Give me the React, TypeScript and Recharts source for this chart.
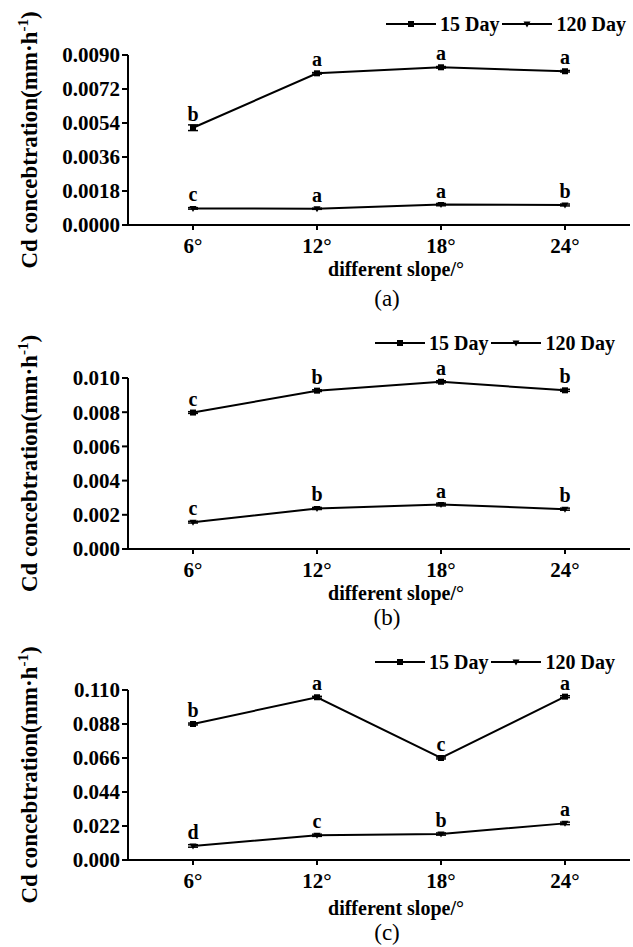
import React from 'react';
import { LineChart, Line, XAxis, YAxis, Legend, LabelList, ErrorBar } from 'recharts';

const FONT = '"Liberation Serif", "Times New Roman", serif';

const slopes = ['6°', '12°', '18°', '24°'];
const seriesNames = ['15 Day', '120 Day'];

// panel (a)
const a15 = [0.00515, 0.00803, 0.00835, 0.00814];
const a120 = [0.00088, 0.00086, 0.00108, 0.00106];
const a15Err = [0.00015, 0.00004, 0.00004, 0.00004];
const a120Err = [0.00004, 0.00003, 0.00006, 0.00005];
const a15Sig = ['b', 'a', 'a', 'a'];
const a120Sig = ['c', 'a', 'a', 'b'];
const aTicks = [0, 0.0018, 0.0036, 0.0054, 0.0072, 0.009];

// panel (b)
const b15 = [0.00798, 0.00926, 0.00978, 0.00928];
const b120 = [0.00157, 0.00237, 0.0026, 0.00233];
const b15Err = [0.00005, 0.00005, 0.00006, 0.00006];
const b120Err = [0.00005, 0.00006, 0.00008, 0.00006];
const b15Sig = ['c', 'b', 'a', 'b'];
const b120Sig = ['c', 'b', 'a', 'b'];
const bTicks = [0, 0.002, 0.004, 0.006, 0.008, 0.01];

// panel (c)
const c15 = [0.088, 0.1053, 0.066, 0.1057];
const c120 = [0.0091, 0.016, 0.0168, 0.0237];
const c15Err = [0.0006, 0.0006, 0.0006, 0.0006];
const c120Err = [0.0008, 0.0007, 0.0007, 0.0008];
const c15Sig = ['b', 'a', 'c', 'a'];
const c120Sig = ['d', 'c', 'b', 'a'];
const cTicks = [0, 0.022, 0.044, 0.066, 0.088, 0.11];

type Row = {
  slope: string; d15: number; d120: number; e15: number; e120: number; s15: string; s120: string;
};

const buildRows = (v15: number[], v120: number[], e15: number[], e120: number[], s15: string[], s120: string[]): Row[] =>
  slopes.map((slope, i) => ({
    slope, d15: v15[i], d120: v120[i], e15: e15[i], e120: e120[i], s15: s15[i], s120: s120[i],
  }));

const SquareDot = (p: any) => {
  if (p.cx == null || p.cy == null) return <g key={p.index} />;
  return <rect key={p.index} x={p.cx - 3} y={p.cy - 3} width={6} height={6} fill="#000" />;
};

const TriDot = (p: any) => {
  if (p.cx == null || p.cy == null) return <g key={p.index} />;
  const { cx, cy } = p;
  return <path key={p.index} d={`M${cx - 3.5},${cy - 2.5}L${cx + 3.5},${cy - 2.5}L${cx},${cy + 3.5}Z`} fill="#000" />;
};

const SigLabel = (p: any) => (
  <text x={p.x} y={p.y - 7} textAnchor="middle" fontFamily={FONT} fontSize={20} fontWeight="bold" fill="#000">
    {p.value}
  </text>
);

// keep legend in series order (recharts sorts by name otherwise)
const LegendBox = (props: any) => {
  const items = [...(props.payload || [])].sort(
    (p: any, q: any) => seriesNames.indexOf(p.value) - seriesNames.indexOf(q.value),
  );
  return (
    <div style={{ display: 'flex', alignItems: 'center', fontFamily: FONT, fontSize: 20, fontWeight: 'bold', color: '#000', whiteSpace: 'nowrap', lineHeight: '24px' }}>
      {items.map((it: any, i: number) => (
        <React.Fragment key={it.value}>
          <svg width={50} height={10} style={{ marginLeft: i === 0 ? 0 : 3 }}>
            <line x1={0} y1={5} x2={50} y2={5} stroke="#000" strokeWidth={2} />
            {it.dataKey === 'd15'
              ? <rect x={22} y={2} width={6} height={6} fill="#000" />
              : <path d="M21.5,2.5L28.5,2.5L25,8.5Z" fill="#000" />}
          </svg>
          <span style={{ marginLeft: 4 }}>{it.value}</span>
        </React.Fragment>
      ))}
    </div>
  );
};

type PanelProps = {
  rows: Row[];
  ticks: number[];
  digits: number;
  caption: string;
  height: number;
  plotTop: number;
  plotHeight: number;
  legendLeft: number;
  legendTop: number;
  titleDy: number;
  captionDy: number;
};

const Panel = ({ rows, ticks, digits, caption, height, plotTop, plotHeight, legendLeft, legendTop, titleDy, captionDy }: PanelProps) => {
  const yCenter = plotTop + plotHeight / 2;
  const xAxisHeight = height - plotTop - plotHeight;
  return (
    <LineChart width={633} height={height} data={rows} margin={{ top: plotTop, right: 3, bottom: 0, left: 0 }}>
      <XAxis
        dataKey="slope"
        padding={{ left: 65, right: 65 }}
        height={xAxisHeight}
        axisLine={{ stroke: '#000', strokeWidth: 2 }}
        tickLine={{ stroke: '#000', strokeWidth: 2 }}
        tickSize={5}
        tickMargin={8}
        tick={{ fill: '#000', fontFamily: FONT, fontSize: 21, fontWeight: 'bold' }}
        label={(lp: any) => {
          const vb = lp.viewBox || {};
          return (
            <g>
              <text x={396} y={vb.y + titleDy} textAnchor="middle" fontFamily={FONT} fontSize={20} fontWeight="bold" fill="#000">
                different slope/°
              </text>
              <text x={387} y={vb.y + captionDy} textAnchor="middle" fontFamily={FONT} fontSize={23} fill="#000">
                {caption}
              </text>
            </g>
          );
        }}
      />
      <YAxis
        width={128}
        domain={[ticks[0], ticks[ticks.length - 1]]}
        ticks={ticks}
        interval={0}
        tickFormatter={(v: number) => v.toFixed(digits)}
        axisLine={{ stroke: '#000', strokeWidth: 2 }}
        tickLine={{ stroke: '#000', strokeWidth: 2 }}
        tickSize={6}
        tickMargin={2}
        tick={{ fill: '#000', fontFamily: FONT, fontSize: 21, fontWeight: 'bold' }}
        label={() => (
          <text
            x={37}
            y={yCenter}
            transform={`rotate(-90, 37, ${yCenter})`}
            textAnchor="middle"
            fontFamily={FONT}
            fontSize={23}
            fontWeight="bold"
            fill="#000"
          >
            Cd concebtration(mm·h<tspan dy={-9} fontSize={15}>-1</tspan><tspan dy={9}>)</tspan>
          </text>
        )}
      />
      <Legend
        layout="horizontal"
        verticalAlign="middle"
        align="center"
        wrapperStyle={{ left: legendLeft, top: legendTop - 12, width: 270, height: 24 }}
        content={LegendBox}
      />
      <Line
        name={seriesNames[0]}
        dataKey="d15"
        stroke="#000"
        strokeWidth={2}
        dot={SquareDot}
        activeDot={false}
        isAnimationActive={false}
      >
        <ErrorBar dataKey="e15" direction="y" width={5} stroke="#000" strokeWidth={1.5} />
        <LabelList dataKey="s15" content={SigLabel} />
      </Line>
      <Line
        name={seriesNames[1]}
        dataKey="d120"
        stroke="#000"
        strokeWidth={2}
        dot={TriDot}
        activeDot={false}
        isAnimationActive={false}
      >
        <ErrorBar dataKey="e120" direction="y" width={5} stroke="#000" strokeWidth={1.5} />
        <LabelList dataKey="s120" content={SigLabel} />
      </Line>
    </LineChart>
  );
};

export default function App() {
  const rowsA = buildRows(a15, a120, a15Err, a120Err, a15Sig, a120Sig);
  const rowsB = buildRows(b15, b120, b15Err, b120Err, b15Sig, b120Sig);
  const rowsC = buildRows(c15, c120, c15Err, c120Err, c15Sig, c120Sig);
  return (
    <div style={{ position: 'absolute', left: 0, top: 0, width: 633, height: 947, background: '#fff' }}>
      <div style={{ position: 'absolute', left: 0, top: 0 }}>
        <Panel rows={rowsA} ticks={aTicks} digits={4} caption="(a)" height={320} plotTop={55} plotHeight={170}
          legendLeft={386} legendTop={24} titleDy={51} captionDy={81} />
      </div>
      <div style={{ position: 'absolute', left: 0, top: 320 }}>
        <Panel rows={rowsB} ticks={bTicks} digits={3} caption="(b)" height={320} plotTop={58} plotHeight={171}
          legendLeft={375} legendTop={23} titleDy={51} captionDy={76} />
      </div>
      <div style={{ position: 'absolute', left: 0, top: 640 }}>
        <Panel rows={rowsC} ticks={cTicks} digits={3} caption="(c)" height={307} plotTop={50} plotHeight={170}
          legendLeft={375} legendTop={22} titleDy={55} captionDy={80} />
      </div>
    </div>
  );
}
